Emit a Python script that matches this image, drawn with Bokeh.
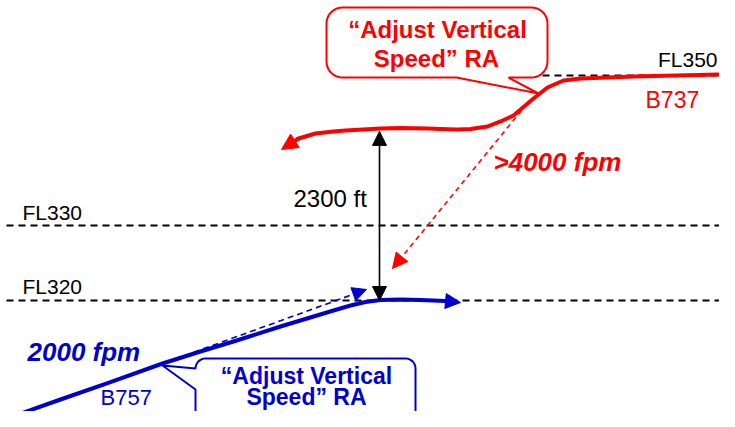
import numpy as np
from bokeh.plotting import figure
from bokeh.models import Range1d, Arrow, NormalHead
from bokeh.core.properties import value
from bokeh.embed import file_html
from bokeh.resources import INLINE

# ---------------- data ----------------
# flight levels (ft)
fl_names = ["FL350", "FL330", "FL320"]
fl_alt = [35000, 33000, 32000]

# B737 (descending aircraft) trajectory: horizontal distance units, altitude ft
b737_x = [718, 633, 580, 563, 547, 533, 513, 500, 487, 470, 457, 440, 427, 400, 380, 345, 333, 315, 298]
b737_alt = [35013, 34987, 34960, 34933, 34840, 34693, 34467, 34387, 34320, 34287, 34280, 34287,
            34293, 34300, 34293, 34267, 34253, 34227, 34160]
b737_end = (281, 34013)

# B757 (climbing aircraft) trajectory
b757_x = [15, 60, 110, 162, 200, 233, 280, 333, 350, 365, 380, 400, 420, 445]
b757_alt = [30467, 30680, 30913, 31160, 31320, 31453, 31653, 31867, 31933, 31980, 32007, 32013, 32007, 31993]
b757_end = (460, 31973)

# projected (un-resolved) paths
b737_proj = [(521, 34533), (392, 32427)]   # >4000 fpm descent
b757_proj = [(165, 31173), (366, 32147)]   # 2000 fpm climb

separation_ft = 2300
sep_x = 379
sep_bottom = 32000
sep_top = 34255

RED = "#FF0000"
BLUE = "#0000CC"
FONT = value("Liberation Sans")

W, H = 719, 411
X0, X1 = 0, 719
Y0, Y1 = 30520, 36000
ftpp = (Y1 - Y0) / H  # feet per pixel

p = figure(width=W, height=H, x_range=Range1d(X0, X1), y_range=Range1d(Y0, Y1),
           output_backend="svg", toolbar_location=None, min_border=0,
           x_axis_location=None, y_axis_location=None)
p.xgrid.visible = False
p.ygrid.visible = False
p.outline_line_color = None
p.background_fill_color = "white"

# flight level dashed lines
fl_start = [530, 6, 6]
for xs, alt in zip(fl_start, fl_alt):
    p.line([xs, 740], [alt, alt], line_color="black", line_width=1.8, line_dash="7 5")

# projected dashed paths
p.add_layout(Arrow(end=NormalHead(size=15, fill_color=RED, line_color=RED),
                   x_start=b737_proj[0][0], y_start=b737_proj[0][1],
                   x_end=b737_proj[1][0], y_end=b737_proj[1][1],
                   line_color=RED, line_width=1.6, line_dash="5 4"))
p.add_layout(Arrow(end=NormalHead(size=14, fill_color=BLUE, line_color=BLUE),
                   x_start=b757_proj[0][0], y_start=b757_proj[0][1],
                   x_end=b757_proj[1][0], y_end=b757_proj[1][1],
                   line_color=BLUE, line_width=1.6, line_dash="6 4"))

# separation arrow
p.add_layout(Arrow(start=NormalHead(size=14, fill_color="black", line_color="black"),
                   end=NormalHead(size=14, fill_color="black", line_color="black"),
                   x_start=sep_x, y_start=sep_bottom, x_end=sep_x, y_end=sep_top,
                   line_color="black", line_width=1.6))

# trajectories
p.line(b737_x, b737_alt, line_color=RED, line_width=4, line_join="round", line_cap="round")
p.add_layout(Arrow(end=NormalHead(size=16, fill_color=RED, line_color=RED),
                   x_start=b737_x[-1], y_start=b737_alt[-1], x_end=b737_end[0], y_end=b737_end[1],
                   line_color=RED, line_width=4))
p.line(b757_x, b757_alt, line_color=BLUE, line_width=4, line_join="round", line_cap="round")
p.add_layout(Arrow(end=NormalHead(size=15, fill_color=BLUE, line_color=BLUE),
                   x_start=b757_x[-1], y_start=b757_alt[-1], x_end=b757_end[0], y_end=b757_end[1],
                   line_color=BLUE, line_width=4))


def arc(cx, cy, r, a0, a1, n=10):
    t = np.radians(np.linspace(a0, a1, n))
    return list(cx + r * np.cos(t)), list(cy + r * ftpp * np.sin(t))


def callout(x0, x1, yb, yt, r, side, base, tip):
    ry = r * ftpp
    xs, ys = [], []
    ax, ay = arc(x1 - r, yt - ry, r, 90, 0); xs += ax; ys += ay
    ax, ay = arc(x1 - r, yb + ry, r, 0, -90); xs += ax; ys += ay
    if side == "bottom":
        xs += [base[1], tip[0], base[0]]; ys += [yb, tip[1], yb]
    ax, ay = arc(x0 + r, yb + ry, r, -90, -180); xs += ax; ys += ay
    if side == "left":
        xs += [x0, tip[0]]; ys += [base[0], tip[1]]
    ax, ay = arc(x0 + r, yt - ry, r, 180, 90); xs += ax; ys += ay
    return xs, ys


# red callout (top)
cx, cy = callout(326, 547, 34973, 35907, 16, "bottom", (456, 508), (538, 34760))
p.patch(cx, cy, fill_color="white", line_color=RED, line_width=2)
# blue callout (bottom)
cx, cy = callout(195, 415, 29900, 31227, 10, "left", (30813,), (162, 31133))
p.patch(cx, cy, fill_color="white", line_color=BLUE, line_width=2)

# texts (vertically centred on their cap height)
TB = "middle"
p.text(x=[22, 22], y=[33180, 32187], text=fl_names[1:], text_font=FONT,
       text_font_size="21px", text_color="black", text_baseline=TB, text_align="left")
p.text(x=[717], y=[35220], text=fl_names[:1], text_font=FONT,
       text_font_size="21px", text_color="black", text_baseline=TB, text_align="right")
p.text(x=[293], y=[33360], text=[f"{separation_ft} ft"], text_font=FONT,
       text_font_size="24px", text_color="black", text_baseline=TB, text_align="left")
p.text(x=[645], y=[34673], text=["B737"], text_font=FONT, text_font_size="23px",
       text_color=RED, text_baseline=TB, text_align="left")
p.text(x=[100], y=[30707], text=["B757"], text_font=FONT, text_font_size="22px",
       text_color=BLUE, text_baseline=TB, text_align="left")
p.text(x=[493], y=[33853], text=[">4000 fpm"], text_font=FONT, text_font_size="26px",
       text_font_style="bold italic", text_color=RED, text_baseline=TB, text_align="left")
p.text(x=[27], y=[31320], text=["2000 fpm"], text_font=FONT, text_font_size="26px",
       text_font_style="bold italic", text_color=BLUE, text_baseline=TB, text_align="left")
p.text(x=[437, 436], y=[35620, 35227], text=["\u201cAdjust Vertical", "Speed\u201d RA"], text_font=FONT,
       text_font_size="24px", text_font_style="bold", text_color=RED,
       text_baseline=TB, text_align="center")
p.text(x=[306, 306], y=[31000, 30707], text=["\u201cAdjust Vertical", "Speed\u201d RA"], text_font=FONT,
       text_font_size="23px", text_font_style="bold", text_color=BLUE,
       text_baseline=TB, text_align="center")

open("out.html", "w", encoding="utf-8").write(file_html(p, INLINE))
